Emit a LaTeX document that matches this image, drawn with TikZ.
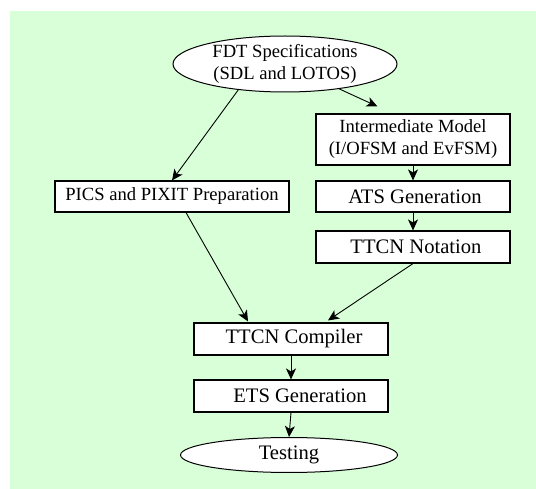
\documentclass[tikz,border=0pt]{standalone}
\usepackage{fontspec}
\setmainfont{Liberation Serif}
\usetikzlibrary{shapes.geometric,arrows.meta,calc}
\definecolor{panelgreen}{RGB}{217,255,217}
\tikzset{
  stepbox/.style={draw=black, line width=1.1pt, fill=white, inner sep=0pt,
    align=center, minimum width=194pt, minimum height=32pt},
  oval/.style={draw=black, line width=1pt, fill=white, ellipse, inner sep=0pt,
    align=center},
  smalltext/.style={font=\fontsize{18.6}{22}\selectfont},
  bigtext/.style={font=\fontsize{20.6}{24}\selectfont},
  flow/.style={draw=black, line width=0.9pt,
    -{Stealth[length=11pt,width=10pt,inset=3pt]}},
}
\begin{document}
\begin{tikzpicture}[x=1pt,y=-1pt]
  \useasboundingbox (0,0) rectangle (536,489);
  % background panel
  \fill[panelgreen] (10,11) rectangle (536,489);

  % nodes
  \node[oval, smalltext, minimum width=224pt, minimum height=56pt] (fdt) at (285,64)
    {FDT Specifications\\(SDL and LOTOS)};
  \node[stepbox, smalltext, minimum height=51pt] (im) at (413,139.5)
    {Intermediate Model\\(I/OFSM and EvFSM)};
  \node[stepbox, bigtext, minimum height=31pt] (ats) at (413,196.5)
    {\hspace*{4pt}ATS Generation};
  \node[stepbox, bigtext] (ttcn) at (413,247)
    {\hspace*{6pt}TTCN Notation};
  \node[stepbox, smalltext, minimum width=234pt, minimum height=31pt] (pics) at (172,196.5)
    {PICS and PIXIT Preparation};
  \node[stepbox, bigtext] (comp) at (291,339)
    {\hspace*{6pt}TTCN Compiler};
  \node[stepbox, bigtext] (ets) at (291,396)
    {\hspace*{18pt}ETS Generation};
  \node[oval, bigtext, minimum width=217pt, minimum height=35pt] (test) at (289,455)
    {Testing};

  % connector ends that stop short of their boxes
  \coordinate (imtip) at ($(im.north west)+(62,-7)$);
  \coordinate (picsout) at ($(pics.south)+(14,0)$);
  \coordinate (compleft) at ($(comp.north)+(-43,-1)$);
  \coordinate (compright) at ($(comp.north)+(37,-2)$);

  % connectors
  \draw[flow] (fdt.209) -- (pics.north);
  \draw[flow] (fdt) -- (imtip);
  \draw[flow] (im.south) -- (ats.north);
  \draw[flow] (ats.south) -- (ttcn.north);
  \draw[flow] (picsout) -- (compleft);
  \draw[flow] (ttcn.south) -- (compright);
  \draw[flow] (comp.south) -- (ets.north);
  \draw[flow] (ets.south) -- (test.north);
\end{tikzpicture}
\end{document}
